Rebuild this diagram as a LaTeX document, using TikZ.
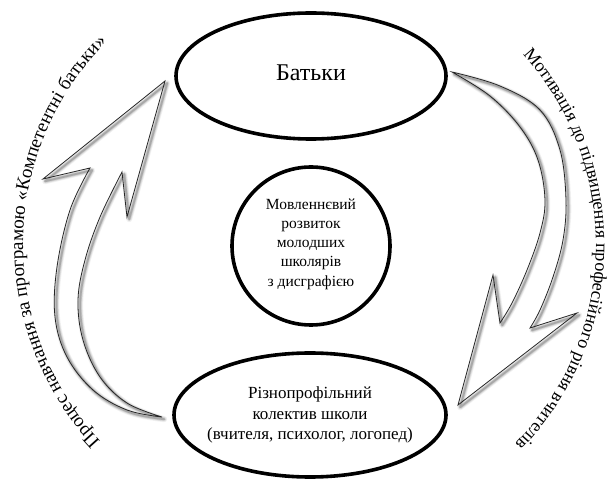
\documentclass[tikz,border=0pt]{standalone}
\usepackage{fontspec}
\setmainfont{Liberation Serif}
\usetikzlibrary{shapes.geometric,decorations.text}
\begin{document}
\begin{tikzpicture}[x=1pt,y=-1pt]
\tikzset{
  oval/.style={draw=black, line width=3.6pt, ellipse, inner sep=0pt},
  hub/.style={draw=black, line width=3.6pt, circle, inner sep=0pt},
  label text/.style={align=center, inner sep=0pt},
  arrow edge/.style={draw=black!85, line width=0.8pt, line join=miter},
  arrow shade/.style={draw=black, line join=round, shift={(2.2,2.2)}},
}
\useasboundingbox (0,0) rectangle (614,481);
\fill[white] (0,0) rectangle (614,481);

% nodes
\node[oval, minimum width=270pt, minimum height=126pt] (parents) at (311,76) {};
\node[label text, font=\fontsize{24}{27}\selectfont] (parentstext) at (311,73) {Батьки};

\node[hub, minimum size=158pt] (core) at (311,246) {};
\node[label text, font=\fontsize{15.5}{19.2}\selectfont] (coretext) at (311,244) {Мовленнєвий\\розвиток\\молодших\\школярів\\з дисграфією};

\node[oval, minimum width=272pt, minimum height=124pt] (staff) at (310,415) {};
\node[label text, font=\fontsize{17}{20.5}\selectfont] (stafftext) at (310,415) {Різнопрофільний\\колектив школи\\(вчителя, психолог, логопед)};

% block arrows
\def\leftblock{plot[smooth,tension=0.6] coordinates {(162,417) (127,410) (93,390) (67,357) (55,317) (57,267) (70,210) (90,168)} -- (43,179) -- (165,81) -- (127,217) -- (122,172) -- plot[smooth,tension=0.6] coordinates {(122,172) (100,217) (85,260) (78,300) (83,340) (100,377) (127,403) (162,417)} -- cycle}
\def\rightblock{plot[smooth,tension=0.6] coordinates {(452,72) (500,86) (540,110) (560,150) (566,200) (563,240) (553,277) (540,310) (530,328)} -- (577,313) -- (458,405) -- (493,275) -- (500,323) -- plot[smooth,tension=0.6] coordinates {(500,323) (512,303) (527,270) (540,233) (545,200) (538,160) (520,127) (490,96) (452,72)} -- cycle}

\foreach \w/\o in {6/0.05,4.5/0.07,3/0.1,1.8/0.16}{
  \draw[arrow shade, line width=\w pt, opacity=\o] \leftblock;
  \draw[arrow shade, line width=\w pt, opacity=\o] \rightblock;
}
\draw[arrow edge] \leftblock;
\draw[arrow edge] \rightblock;

% curved captions on fine polylines (clockwise on screen)
\path[decorate, decoration={text along path, text align=left,
  text={|\fontsize{19}{20}\selectfont|Процес навчання за програмою «Компетентні батьки»}}]
  plot[domain=223:120, samples=150, variable=\t] ({311+288*cos(\t)}, {245-288*sin(\t)});
\path[decorate, decoration={text along path, text align=left,
  text={|\fontsize{18.2}{18}\selectfont|Мотивація до підвищення професійного рівня вчителів}}]
  plot[domain=42:-60, samples=150, variable=\t] ({311+285*cos(\t)}, {245-285*sin(\t)});
\end{tikzpicture}
\end{document}
